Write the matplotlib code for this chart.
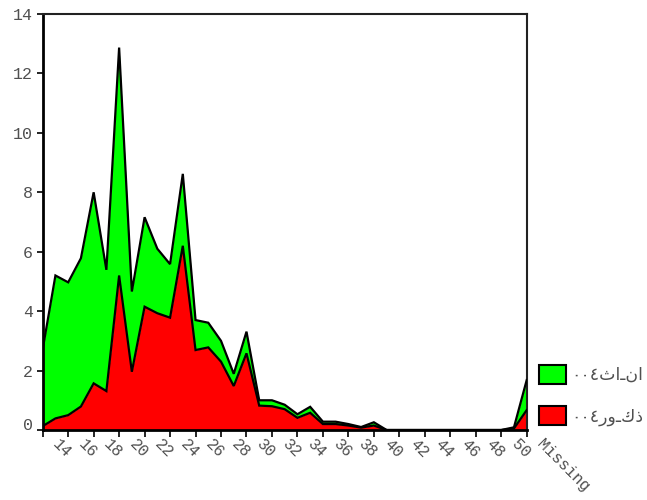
import matplotlib
matplotlib.use("Agg")
import matplotlib.pyplot as plt
import matplotlib.transforms as mtransforms
from matplotlib.patches import Patch
import numpy as np

# ---- data ----
categories = [str(a) for a in range(13, 51)] + ["Missing"]
male = [0.13, 0.39, 0.50, 0.79, 1.57, 1.31, 5.20, 1.96, 4.15, 3.93,
        3.78, 6.20, 2.69, 2.78, 2.30, 1.48, 2.58, 0.82, 0.80, 0.70,
        0.41, 0.58, 0.20, 0.20, 0.15, 0.08, 0.15, 0.0, 0.0, 0.0,
        0.0, 0.0, 0.0, 0.0, 0.0, 0.0, 0.0, 0.05, 0.67]
female = [2.59, 4.81, 4.47, 4.99, 6.43, 4.08, 7.67, 2.70, 3.01, 2.17,
          1.80, 2.42, 1.01, 0.83, 0.70, 0.41, 0.73, 0.18, 0.20, 0.15,
          0.12, 0.20, 0.08, 0.08, 0.05, 0.02, 0.11, 0.0, 0.0, 0.0,
          0.0, 0.0, 0.0, 0.0, 0.0, 0.0, 0.0, 0.04, 1.01]
x_labels = [str(a) for a in range(14, 51, 2)] + ["Missing"]
y_ticks = [0, 2, 4, 6, 8, 10, 12, 14]
series_names = ["٠٠٤ثاـنا", "٠٠٤روـكذ"]   # female, male
colors = {"female": "#00FF00", "male": "#FF0000"}

W, H = 647, 500
fig = plt.figure(figsize=(W / 100, H / 100), dpi=100)
ax_l, ax_r, ax_t, ax_b = 42.7, 526.7, 14, 430
ax = fig.add_axes([ax_l / W, 1 - ax_b / H, (ax_r - ax_l) / W, (ax_b - ax_t) / H])

x = np.arange(len(categories))
male_a = np.array(male)
total = male_a + np.array(female)

ax.fill_between(x, 0, male_a, color=colors["male"], lw=0, zorder=2)
ax.fill_between(x, male_a, total, color=colors["female"], lw=0, zorder=2)
ax.plot(x, total, color="black", lw=1.6, zorder=3, solid_joinstyle="miter")
ax.plot(x, male_a, color="black", lw=1.6, zorder=3, solid_joinstyle="miter")

ax.set_xlim(0, len(categories) - 1)
ax.set_ylim(0, 14)

mono = "Liberation Mono"
grey = "#505050"

# y axis
ax.set_yticks(y_ticks)
ax.set_yticklabels([str(v) for v in y_ticks], fontfamily=mono, fontsize=12, color=grey)
ax.tick_params(axis="y", direction="out", length=4, width=1.2, pad=3, color="black")
lab0 = ax.get_yticklabels()[0]
lab0.set_transform(lab0.get_transform() + mtransforms.ScaledTranslation(0, 6 / 100, fig.dpi_scale_trans))

# x axis: ticks at even positions, labels at odd positions
ax.set_xticks(np.arange(0, len(categories), 2))
ax.set_xticklabels([])
ax.tick_params(axis="x", direction="out", length=5, width=1.2, color="black")
lab_tr = mtransforms.offset_copy(ax.get_xaxis_transform(), fig=fig, x=0, y=-12, units="dots")
label_pos = np.arange(1, 2 * len(x_labels), 2)
for p, t in zip(label_pos, x_labels):
    ax.text(p, 0, t, transform=lab_tr, rotation=-45, rotation_mode="anchor",
            ha="left", va="center", fontfamily=mono, fontsize=11.5, color=grey,
            clip_on=False)

for s in ["left", "bottom"]:
    ax.spines[s].set_linewidth(2)
    ax.spines[s].set_color("black")
for s in ["top", "right"]:
    ax.spines[s].set_linewidth(1.5)
    ax.spines[s].set_color("#222222")

handles = [Patch(facecolor=colors["female"], edgecolor="black", lw=1.5),
           Patch(facecolor=colors["male"], edgecolor="black", lw=1.5)]
fs = 12.5
fs_px = fs * 100 / 72
leg = fig.legend(handles, series_names, loc="upper left",
                 bbox_to_anchor=(539 / W, 1 - 365 / H), frameon=False,
                 borderpad=0, borderaxespad=0, handlelength=27 / fs_px,
                 handleheight=22 / fs_px, handletextpad=5 / fs_px,
                 labelspacing=(44 - 22) / fs_px,
                 prop={"family": "DejaVu Sans", "size": fs})
for t in leg.get_texts():
    t.set_color(grey)

fig.savefig("out.png", dpi=100)
